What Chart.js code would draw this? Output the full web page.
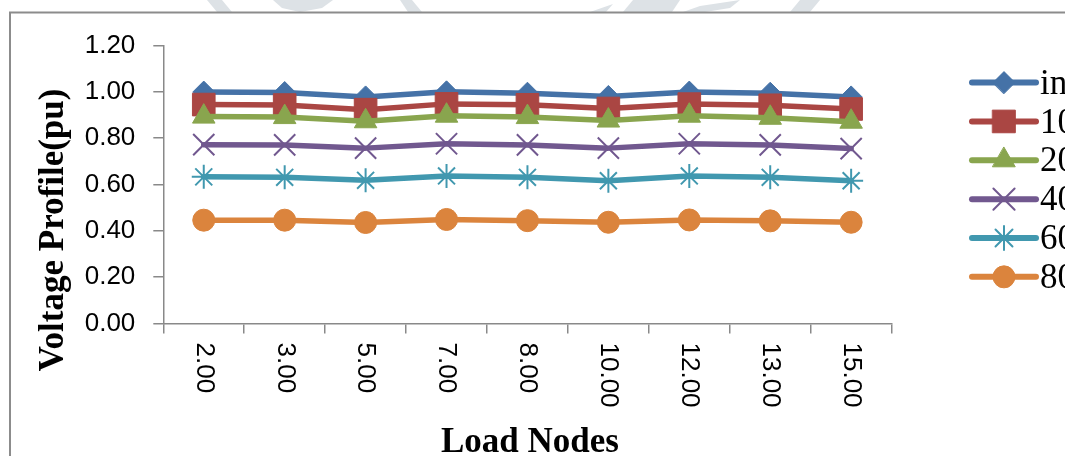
<!DOCTYPE html>
<html>
<head>
<meta charset="utf-8">
<script src="https://cdn.jsdelivr.net/npm/chart.js@4/dist/chart.umd.min.js"></script>
<style>
  html, body { margin: 0; padding: 0; background: #fff; }
  canvas { display: block; }
</style>
</head>
<body>
<canvas id="c" width="1065" height="456"></canvas>
<script>
// ---- data ----
const categories = ['2.00', '3.00', '5.00', '7.00', '8.00', '10.00', '12.00', '13.00', '15.00'];
const seriesNames = ['initial', '10%', '20%', '40%', '60%', '80%'];
const initialV = [0.999, 0.997, 0.978, 1.000, 0.994, 0.980, 0.999, 0.994, 0.978];
const load10V  = [0.945, 0.943, 0.923, 0.948, 0.944, 0.928, 0.947, 0.942, 0.926];
const load20V  = [0.893, 0.891, 0.873, 0.897, 0.891, 0.876, 0.897, 0.888, 0.871];
const load40V  = [0.772, 0.771, 0.757, 0.776, 0.771, 0.757, 0.776, 0.771, 0.755];
const load60V  = [0.633, 0.631, 0.618, 0.637, 0.631, 0.616, 0.637, 0.631, 0.616];
const load80V  = [0.446, 0.446, 0.436, 0.449, 0.444, 0.437, 0.447, 0.443, 0.437];
const yTicks = [0, 0.2, 0.4, 0.6, 0.8, 1.0, 1.2];
const xTitle = 'Load Nodes';
const yTitle = 'Voltage Profile(pu)';

const seriesValues = [initialV, load10V, load20V, load40V, load60V, load80V];
const colors = ['#4572A7', '#AA4643', '#89A54E', '#71588F', '#4198AF', '#DB843D'];
const styles = ['rectRot', 'rect', 'triangle', 'crossRot', 'star', 'circle'];
const radii  = [11, 16, 13, 15, 12, 11];
const pbw    = [1, 1, 1, 2, 2, 1];

const AXIS = '#898989';

const datasets = seriesValues.map((vals, i) => ({
  label: seriesNames[i],
  data: vals,
  borderColor: colors[i],
  backgroundColor: colors[i],
  borderWidth: 5.5,
  borderJoinStyle: 'round',
  borderCapStyle: 'round',
  pointStyle: styles[i],
  pointRadius: radii[i],
  pointHoverRadius: radii[i],
  pointBorderWidth: pbw[i],
  pointBackgroundColor: colors[i],
  pointBorderColor: colors[i],
  tension: 0,
  fill: false,
  order: seriesValues.length - i
}));

// faint watermark fragments above the frame (decoration only)
const watermarkShapes = [
  [[207, 0], [222, 0], [232, 12], [217, 12]],
  [[273, 0], [333, 0], [322, 8], [300, 12], [282, 8]],
  [[400, 0], [412, 0], [422, 12], [408, 12]],
  [[590, 12], [613, 4], [606, 12]],
  [[623, 12], [633, 0], [680, 0], [672, 12]],
  [[683, 12], [700, 6], [740, 0], [730, 8], [705, 12]],
  [[790, 12], [800, 0], [820, 0], [810, 12]]
];

const decor = {
  id: 'decor',
  beforeDraw(chart) {
    const ctx = chart.ctx;
    ctx.save();
    ctx.fillStyle = '#fff';
    ctx.fillRect(0, 0, chart.width, chart.height);
    ctx.fillStyle = '#DDE2E6';
    watermarkShapes.forEach(poly => {
      ctx.beginPath();
      poly.forEach((p, k) => k ? ctx.lineTo(p[0], p[1]) : ctx.moveTo(p[0], p[1]));
      ctx.closePath();
      ctx.fill();
    });
    ctx.strokeStyle = '#8c8c8c';
    ctx.lineWidth = 2;
    ctx.strokeRect(10, 12.5, 1200, 600);
    ctx.restore();
  },
  afterDraw(chart) {
    const ctx = chart.ctx;
    const xs = chart.scales.x;
    ctx.save();
    // rotated category labels (reading top to bottom)
    ctx.fillStyle = '#000';
    ctx.font = '26px "Liberation Sans", Arial, sans-serif';
    ctx.textAlign = 'left';
    ctx.textBaseline = 'middle';
    categories.forEach((lab, i) => {
      const x = xs.getPixelForTick(i);
      ctx.save();
      ctx.translate(x, xs.top + 19);
      ctx.rotate(Math.PI / 2);
      ctx.fillText(lab, 0, 0);
      ctx.restore();
    });
    // axis titles
    ctx.font = 'bold 35px "Liberation Serif", "Times New Roman", serif';
    ctx.textAlign = 'center';
    ctx.textBaseline = 'alphabetic';
    ctx.fillText(xTitle, 530, 452);
    ctx.save();
    ctx.translate(63, 230);
    ctx.rotate(-Math.PI / 2);
    ctx.fillText(yTitle, 0, 0);
    ctx.restore();
    // legend
    const lx0 = 972, lx1 = 1036, ly0 = 82.6, dy = 38.85;
    chart.data.datasets.forEach((ds, i) => {
      const y = ly0 + i * dy;
      ctx.strokeStyle = ds.borderColor;
      ctx.lineWidth = 6;
      ctx.lineCap = 'round';
      ctx.beginPath();
      ctx.moveTo(lx0, y);
      ctx.lineTo(lx1, y);
      ctx.stroke();
      ctx.fillStyle = ds.pointBackgroundColor;
      ctx.strokeStyle = ds.pointBorderColor;
      ctx.lineWidth = ds.pointBorderWidth;
      Chart.helpers.drawPoint(ctx, {pointStyle: ds.pointStyle, radius: ds.pointRadius, borderWidth: ds.pointBorderWidth, rotation: 0}, (lx0 + lx1) / 2, y);
      ctx.fillStyle = '#000';
      ctx.font = '35px "Liberation Serif", "Times New Roman", serif';
      ctx.textAlign = 'left';
      ctx.textBaseline = 'middle';
      ctx.fillText(ds.label, 1040, y + 2);
    });
    ctx.restore();
  }
};

new Chart(document.getElementById('c'), {
  type: 'line',
  data: { labels: categories, datasets },
  options: {
    responsive: false,
    devicePixelRatio: 1,
    animation: false,
    events: [],
    layout: { padding: { top: 45.5, right: 173.4, bottom: 0, left: 0 } },
    plugins: { legend: { display: false }, tooltip: { enabled: false }, title: { display: false } },
    scales: {
      x: {
        type: 'category',
        offset: true,
        grid: { display: true, offset: true, drawOnChartArea: false, drawTicks: true, tickLength: 10, color: AXIS, lineWidth: 1.5 },
        border: { display: true, color: AXIS, width: 1.5 },
        ticks: { display: false },
        afterFit(s) { s.height = 456 - 323.5; }
      },
      y: {
        min: 0, max: 1.2,
        afterBuildTicks(s) { s.ticks = yTicks.map(v => ({ value: v })); },
        grid: { display: true, drawOnChartArea: false, drawTicks: true, tickLength: 10, color: AXIS, lineWidth: 1.5 },
        border: { display: true, color: AXIS, width: 1.5 },
        ticks: {
          color: '#000',
          padding: 18,
          font: { family: '"Liberation Sans", Arial, sans-serif', size: 26 },
          callback: v => Number(v).toFixed(2)
        },
        afterFit(s) { s.width = 163.3; }
      }
    }
  },
  plugins: [decor]
});
</script>
</body>
</html>
